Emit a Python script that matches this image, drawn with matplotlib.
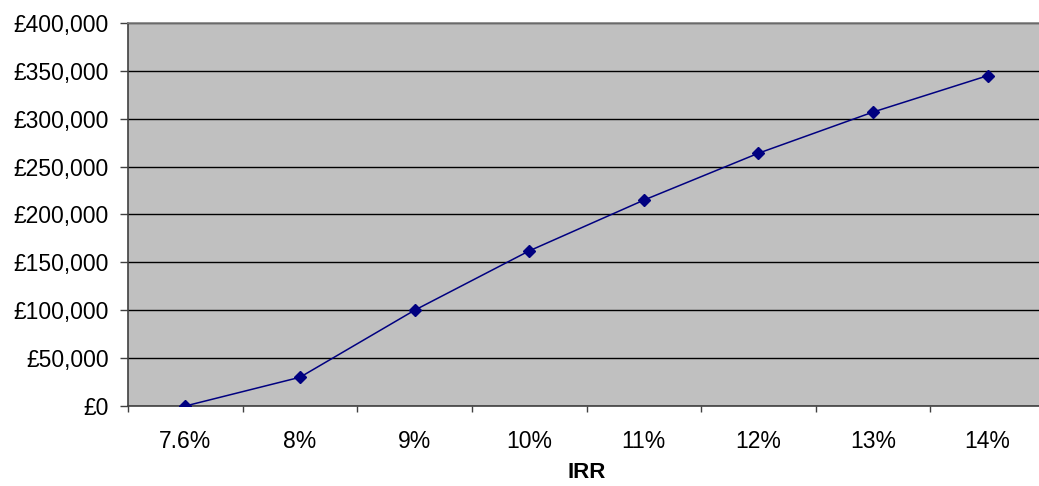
import matplotlib
matplotlib.use("Agg")
import matplotlib.pyplot as plt
from matplotlib.ticker import FuncFormatter

irr_labels = ["7.6%", "8%", "9%", "10%", "11%", "12%", "13%", "14%"]
values = [0, 30000, 100000, 162000, 215000, 264000, 307000, 345000]
y_ticks = [0, 50000, 100000, 150000, 200000, 250000, 300000, 350000, 400000]

plt.rcParams["font.family"] = ["Liberation Sans", "DejaVu Sans"]

fig = plt.figure(figsize=(10.39, 4.86), dpi=100)
W, H = 1039, 486
left, right, top, bottom = 128, 1045, 23, 406
ax = fig.add_axes([left / W, 1 - bottom / H, (right - left) / W, (bottom - top) / H])
ax.set_facecolor("#C0C0C0")

x = list(range(len(irr_labels)))
ax.plot(x, values, color="#000080", linewidth=1.1, marker="D", markersize=6.5,
        markerfacecolor="#000080", markeredgecolor="#000080", zorder=3)

ax.set_xlim(-0.5, len(irr_labels) - 0.5)
ax.set_ylim(0, 400000)
ax.set_yticks(y_ticks)
ax.yaxis.set_major_formatter(FuncFormatter(lambda v, p: "£{:,.0f}".format(v)))
ax.grid(axis="y", color="black", linewidth=1.0)
ax.set_axisbelow(True)

# category labels centred, ticks between categories
ax.set_xticks(x)
ax.set_xticklabels(irr_labels)
ax.set_xticks([i + 0.5 for i in range(-1, len(irr_labels))], minor=True)
ax.tick_params(axis="x", which="major", length=0, pad=17.5, labelsize=16.5)
ax.tick_params(axis="x", which="minor", length=4.5, width=1, color="#404040", direction="out")
ax.tick_params(axis="y", length=5.8, width=1, color="#404040", pad=8, labelsize=16.5)

for side in ("left", "bottom"):
    ax.spines[side].set_color("#404040")
    ax.spines[side].set_linewidth(1.2)
ax.spines["top"].set_color("#808080")
ax.spines["top"].set_linewidth(1.2)
ax.spines["right"].set_visible(False)

ax.set_xlabel("IRR", fontsize=16, fontweight="bold", labelpad=6)

fig.savefig("out.png", dpi=100)
